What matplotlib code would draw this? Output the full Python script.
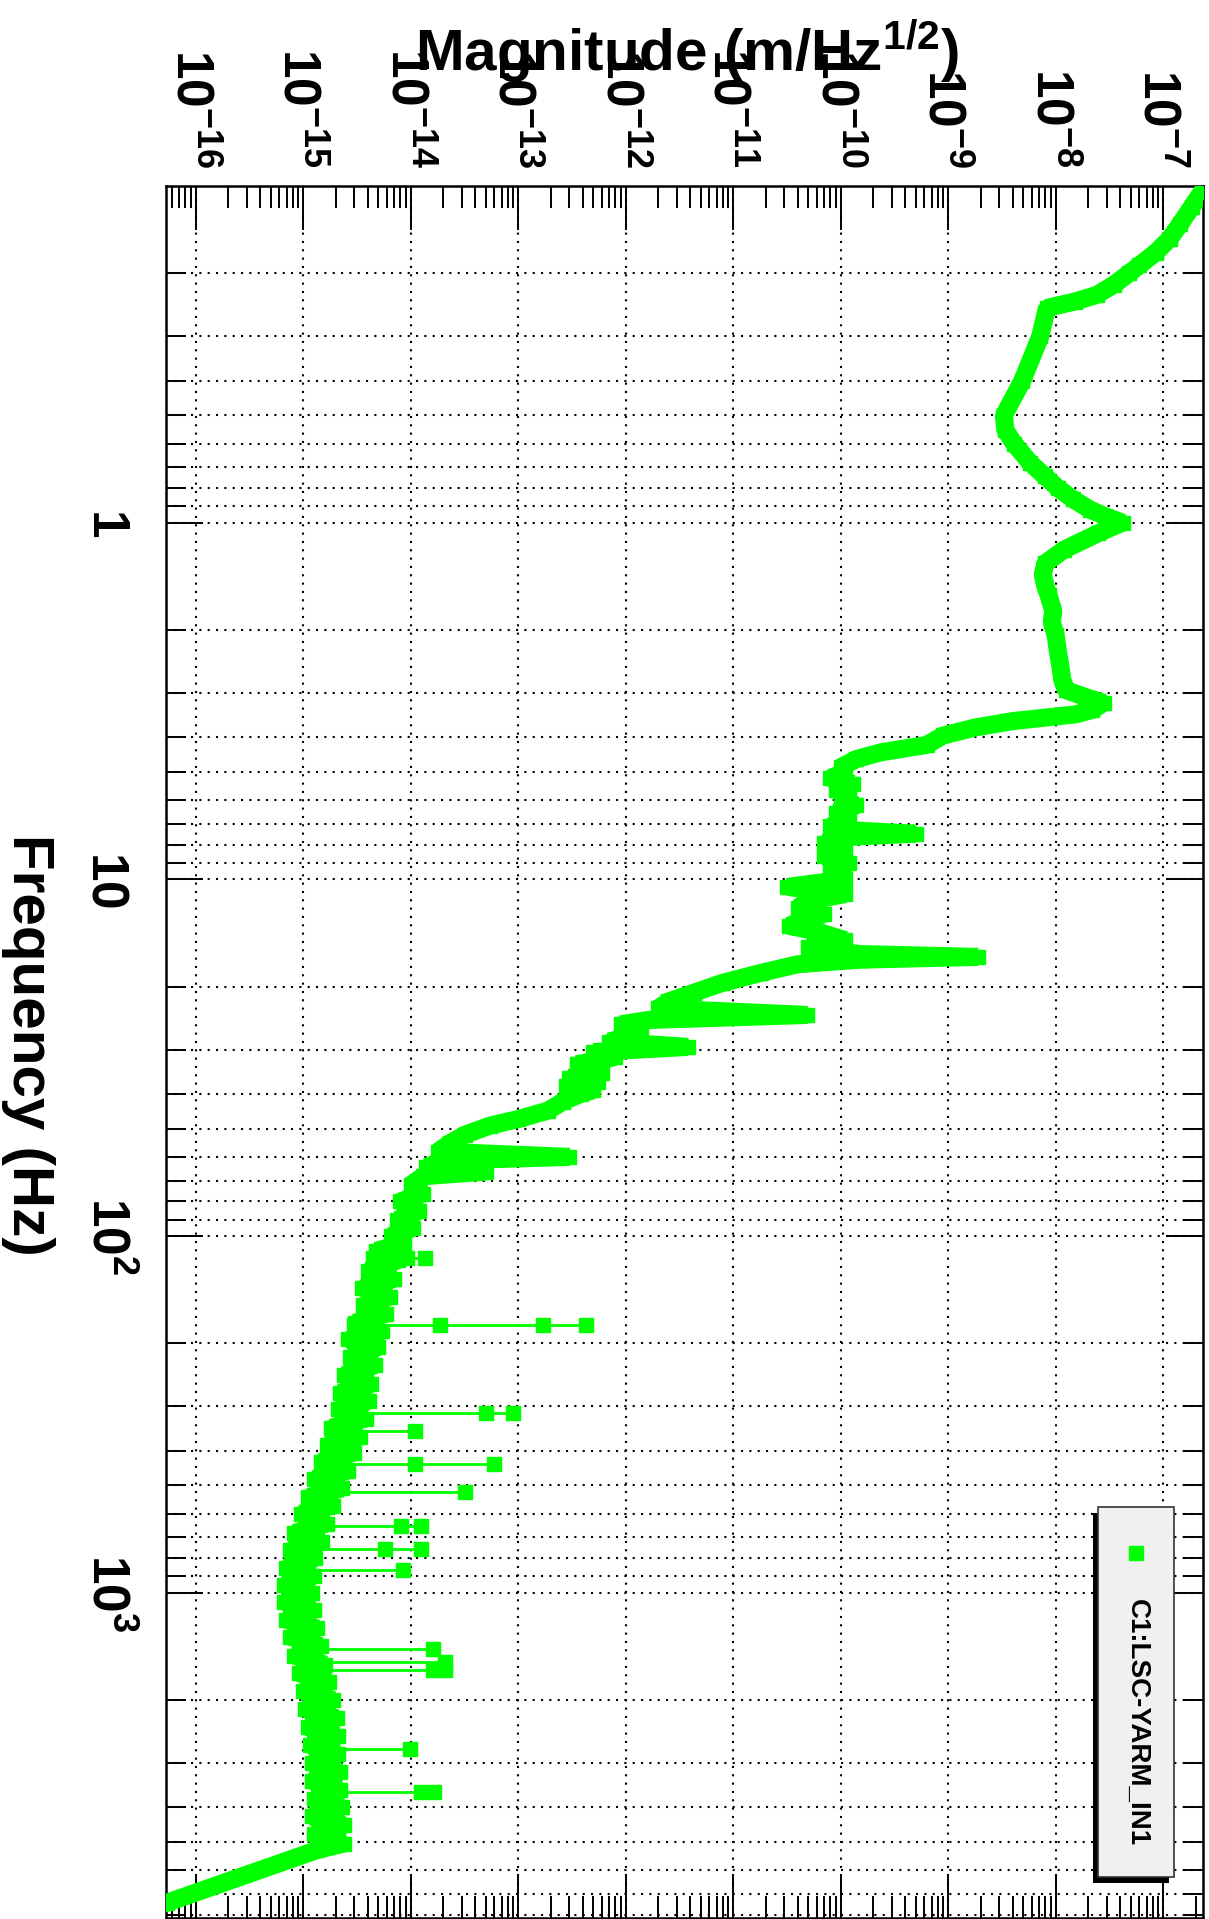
import matplotlib
matplotlib.use("Agg")
import matplotlib.pyplot as plt
from matplotlib.patches import Rectangle
from matplotlib.lines import Line2D
from matplotlib.ticker import NullFormatter

plt.rcParams['font.family'] = ['Liberation Sans', 'DejaVu Sans']
plt.rcParams['font.weight'] = 'bold'
plt.rcParams['mathtext.fontset'] = 'custom'
plt.rcParams['mathtext.rm'] = 'Liberation Sans:bold'
plt.rcParams['mathtext.bf'] = 'Liberation Sans:bold'
plt.rcParams['mathtext.it'] = 'Liberation Sans:bold:italic'

W, H = 1209, 1919
GREEN = '#00ff00'

# ── Spectrum ────────────────────────────────────────────────────────────────
freq_main = [
    0.118, 0.13, 0.145, 0.16, 0.175, 0.19, 0.2, 0.215, 0.23, 0.24, 0.25,
    0.3, 0.4, 0.5, 0.55, 0.6, 0.68, 0.74, 0.8, 0.86, 0.92, 0.96, 1.0,
    1.07, 1.19, 1.3, 1.4, 1.5, 1.6, 1.77, 1.9, 2.07, 2.3, 2.5, 2.75, 2.95,
    3.1, 3.2, 3.35, 3.45, 3.6, 3.75, 3.95, 4.2, 4.4, 4.6, 4.85,
    5.0, 5.2, 5.4, 5.6, 5.8, 6.0, 6.2, 6.5, 6.8, 7.1, 7.3, 7.45, 7.6,
    7.9, 8.2, 8.6, 9.0, 9.5, 10.0, 10.5, 11.0, 11.5, 12.0, 12.5, 13.0,
    13.5, 14.0, 14.8, 15.5, 16.2, 16.5, 16.8, 17.3, 18.3, 19.5, 20.8,
    22.0, 23.0, 24.0, 24.8, 25.5, 27.0, 28.5, 29.5, 30.5, 31.5, 33.0,
    34.8, 36.0, 37.0, 38.0, 39.0, 40.0, 42.0, 44.5, 47.0, 49.0, 52.0,
    55.0, 58.0, 60.0,
    61.5, 64.0, 66.0, 68.0, 72.0, 76.0, 80.0, 85.0, 90.0, 95.0, 100.0,
    105, 110, 117, 125, 132, 140, 148, 156, 165, 175, 185, 195, 205,
    218, 230, 245, 260, 275, 290, 305, 325, 345, 365, 385, 405, 430,
    455, 480, 510, 540, 570, 600, 640, 680, 720, 760, 800, 850, 900,
    950, 1000, 1060, 1120, 1190, 1260, 1330, 1410, 1500, 1590, 1680,
    1780, 1890, 2000, 2120, 2250, 2380, 2520, 2670, 2830, 3000, 3180,
    3370, 3570, 3780, 4000, 4240, 4490, 4760, 5050, 5265, 7400, 7700,
]
mag_main = [
    2.3e-7, 1.85e-7, 1.45e-7, 1.15e-7, 8.5e-8, 6.0e-8, 4.8e-8, 3.5e-8, 2.4e-8, 1.5e-8, 8.3e-9,
    7.2e-9, 4.9e-9, 3.3e-9, 3.4e-9, 4.1e-9, 5.8e-9, 7.9e-9, 1.05e-8, 1.45e-8, 2.1e-8, 2.9e-8, 4.2e-8,
    2.5e-8, 1.2e-8, 8e-9, 7.6e-9, 8e-9, 8.6e-9, 9.5e-9, 9.2e-9, 1.0e-8, 1.05e-8, 1.1e-8, 1.15e-8, 1.25e-8,
    2.0e-8, 2.8e-8, 2.2e-8, 1.5e-8, 4e-9, 1.8e-9, 9e-10, 6.3e-10, 2.4e-10, 1.4e-10, 1.0e-10,
    1.1e-10, 8e-11, 1.3e-10, 9e-11, 1.2e-10, 1.0e-10, 1.4e-10, 9e-11, 1.2e-10, 8e-11, 1.4e-10, 5.0e-10, 1.2e-10,
    7e-11, 1.1e-10, 7e-11, 1.2e-10, 8e-11, 1.1e-10, 3.2e-11, 1.1e-10, 5e-11, 4e-11, 7e-11, 4.5e-11,
    3.3e-11, 6e-11, 1.1e-10, 5e-11, 1.5e-10, 1.9e-9, 1.5e-10, 4e-11, 1.8e-11, 8e-12, 4.3e-12,
    2.5e-12, 2.0e-12, 4.9e-11, 1.6e-12, 9e-13, 1.4e-12, 7e-13, 3.8e-12, 5e-13, 8e-13, 3.5e-13,
    6e-13, 3.0e-13, 5.5e-13, 2.8e-13, 5e-13, 3.8e-13, 2.6e-13, 1.9e-13, 1.0e-13, 5.5e-14, 3.2e-14,
    2.3e-14, 1.8e-14, 3.0e-13,
    2.0e-14, 1.4e-14, 5e-14, 1.3e-14, 1.0e-14, 1.3e-14, 8e-15, 1.2e-14, 7.5e-15, 1.05e-14, 6.5e-15,
    8.6e-15, 4.79e-15, 7.6e-15, 3.98e-15, 7.0e-15, 3.55e-15, 6.4e-15, 3.63e-15, 5.9e-15, 3.02e-15, 5.4e-15, 2.63e-15, 5.0e-15,
    2.75e-15, 4.7e-15, 2.40e-15, 4.3e-15, 2.19e-15, 4.1e-15, 2.09e-15, 3.8e-15, 1.82e-15, 3.4e-15, 1.66e-15, 3.0e-15, 1.45e-15,
    2.6e-15, 1.26e-15, 2.3e-15, 1.12e-15, 1.9e-15, 9.5e-16, 1.65e-15, 8.3e-16, 1.5e-15, 7.6e-16, 1.3e-15, 6.9e-16, 1.25e-15,
    6.6e-16, 1.2e-15, 6.6e-16, 1.25e-15, 6.9e-16, 1.35e-15, 7.6e-16, 1.45e-15, 8.3e-16, 1.6e-15, 9.1e-16,
    1.75e-15, 1.0e-15, 1.9e-15, 1.05e-15, 2.05e-15, 1.10e-15, 2.1e-15, 1.15e-15, 2.1e-15, 1.20e-15, 2.2e-15,
    1.20e-15, 2.2e-15, 1.26e-15, 2.3e-15, 1.20e-15, 2.4e-15, 1.26e-15, 2.4e-15, 1.35e-15, 5.4e-17, 3.2e-17,
]

# narrow lines (thin segments joining the square markers)
spike_freq = [115, 178, 313, 352, 437, 523, 651, 754, 861, 1440, 1560, 1650, 2750, 3630]
spike_mags = [
    [4.5e-15, 9.3e-15, 1.35e-14],
    [3.0e-15, 1.86e-14, 1.7e-13, 4.3e-13],
    [2.6e-15, 5e-14, 8.9e-14],
    [2.4e-15, 1.1e-14],
    [1.8e-15, 1.1e-14, 6e-14],
    [1.5e-15, 3.2e-14],
    [1.2e-15, 8.1e-15, 1.26e-14],
    [1.1e-15, 5.8e-15, 1.26e-14],
    [1.0e-15, 8.5e-15],
    [1.1e-15, 1.6e-14],
    [1.2e-15, 2.1e-14],
    [1.2e-15, 1.6e-14, 2.1e-14],
    [1.5e-15, 9.8e-15],
    [1.6e-15, 1.26e-14, 1.66e-14],
]

mag_exps = [-16, -15, -14, -13, -12, -11, -10, -9, -8, -7]
freq_ticks = [1, 10, 100, 1000]
freq_labels = [r'$\mathbf{1}$', r'$\mathbf{10}$', r'$\mathbf{10^{2}}$', r'$\mathbf{10^{3}}$']
legend_label = 'C1:LSC-YARM_IN1'


def fig_xy(x, y):
    return x / W, 1 - y / H


fig = plt.figure(figsize=(W / 100, H / 100), dpi=100)
ax = fig.add_axes([166 / W, 1 - 1917.5 / H, (1203 - 166) / W, (1917.5 - 186) / H])
ax.set_xscale('log')
ax.set_yscale('log')

# ── grid / ticks ──────────────────────────────────────────────────────────────
dots = (0, (1, 3))
ax.grid(True, which='major', axis='both', color='black', lw=1.5, linestyle=dots)
ax.grid(True, which='minor', axis='y', color='black', lw=1.5, linestyle=dots)
ax.set_axisbelow(True)

ax.set_xticks([10.0 ** e for e in mag_exps],
              labels=[r'$\mathbf{10^{%d}}$' % e for e in mag_exps])
ax.set_xticks([k * 10.0 ** e for e in range(-17, -6) for k in range(2, 10)], minor=True)
ax.xaxis.set_minor_formatter(NullFormatter())
ax.set_yticks(freq_ticks, labels=freq_labels)
ax.set_yticks([k * 10.0 ** e for e in range(-1, 4) for k in range(2, 10)], minor=True)
ax.yaxis.set_minor_formatter(NullFormatter())

# limits after the ticks, since set_xticks widens the view
ax.set_xlim(5.293e-17, 2.348e-7)
ax.set_ylim(8140, 0.1138)

ax.tick_params(axis='x', which='major', direction='in', length=31.7, width=1.4,
               top=True, bottom=True, labeltop=True, labelbottom=False,
               labelsize=37, pad=13)
ax.tick_params(axis='x', which='minor', direction='in', length=15.8, width=1.4,
               top=True, bottom=True)
ax.tick_params(axis='y', which='major', direction='in', length=26.6, width=1.4,
               left=True, right=True, labelsize=37, pad=52.6)
ax.tick_params(axis='y', which='minor', direction='in', length=14.4, width=1.4,
               left=True, right=True)
for lbl in ax.get_xticklabels():
    lbl.set_rotation(-90)
    lbl.set_rotation_mode('anchor')
    lbl.set_ha('right')
    lbl.set_va('center_baseline')
for lbl in ax.get_yticklabels():
    lbl.set_rotation(-90)
    lbl.set_rotation_mode('anchor')
    lbl.set_ha('center')
    lbl.set_va('baseline')
for sp in ax.spines.values():
    sp.set_linewidth(1.8)

# ── data ──────────────────────────────────────────────────────────────────────
ax.plot(mag_main, freq_main, color=GREEN, lw=13, marker='s', ms=10, mec=GREEN,
        solid_joinstyle='bevel', solid_capstyle='butt', zorder=3)
for f, mags in zip(spike_freq, spike_mags):
    ax.plot(mags, [f] * len(mags), color=GREEN, lw=2, marker='s', ms=9.4, mec=GREEN, zorder=3)

# ── titles ────────────────────────────────────────────────────────────────────
fig.text(*fig_xy(687, 70), r'Magnitude (m/Hz$^{\mathbf{1/2}}$)', ha='center', va='baseline',
         fontsize=42, fontweight='bold')
fig.text(*fig_xy(13, 1045), 'Frequency (Hz)', rotation=-90, rotation_mode='anchor',
         ha='center', va='baseline', fontsize=42, fontweight='bold')

# ── legend (box with shadow) ──────────────────────────────────────────────────
fig.add_artist(Rectangle(fig_xy(1093, 1883), 76 / W, 370 / H, transform=fig.transFigure,
                         facecolor='black', edgecolor='none', zorder=5))
fig.add_artist(Rectangle(fig_xy(1098, 1877), 76 / W, 370 / H, transform=fig.transFigure,
                         facecolor='#f0f0f0', edgecolor='#333333', lw=1.2, zorder=6))
fig.add_artist(Line2D([1136 / W], [1 - 1553 / H], marker='s', ms=9.4, color=GREEN,
                      transform=fig.transFigure, zorder=7))
fig.text(*fig_xy(1137, 1723), legend_label, rotation=-90, ha='center', va='center',
         fontsize=20, fontweight='bold', zorder=7)

fig.savefig('out.png', dpi=100, facecolor='white')
